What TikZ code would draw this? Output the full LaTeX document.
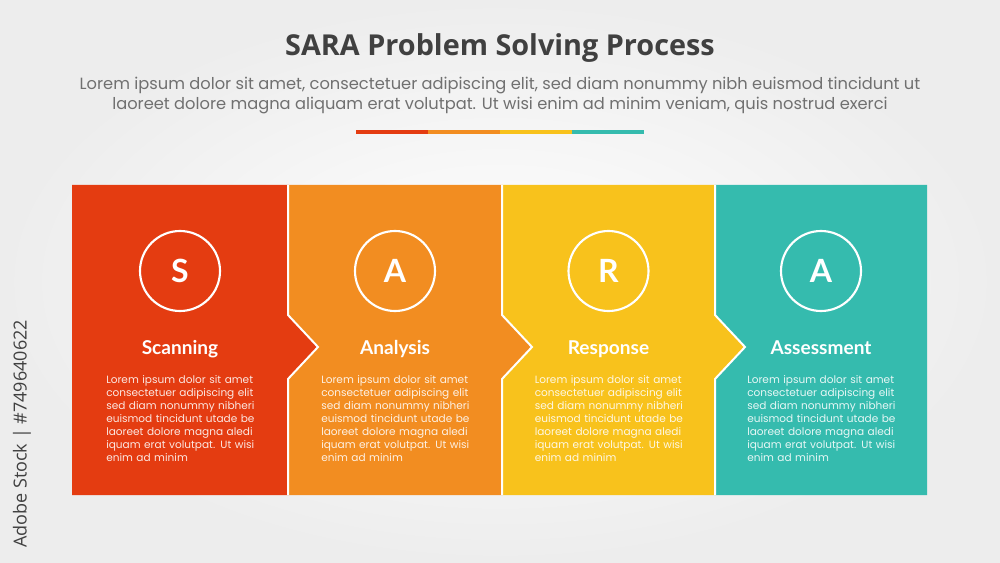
\documentclass[tikz,border=0pt]{standalone}
\usepackage{fontspec}
\setmainfont{Poppins}
\newfontfamily\titlefont{Open Sans}
\newfontfamily\labelfont{Lato}
\definecolor{cS}{HTML}{E43C11}
\definecolor{cA}{HTML}{F28D21}
\definecolor{cR}{HTML}{F8C21C}
\definecolor{cT}{HTML}{35BBAE}
\definecolor{bgc}{HTML}{EDEDED}
\definecolor{ttl}{HTML}{404040}
\definecolor{subc}{HTML}{707070}
\tikzset{
  divider/.style={draw=white, line width=1.5pt, line join=miter},
  ring/.style={circle, draw=white, line width=1.6pt, minimum size=60pt, inner sep=0pt, text=white, font=\labelfont\bfseries\fontsize{24}{26}\selectfont},
  steplabel/.style={text=white, anchor=base, inner sep=0pt, font=\labelfont\bfseries\fontsize{14.3}{16}\selectfont},
  bodytext/.style={text=white, text opacity=0.88, align=left, text width=115pt, inner sep=0pt, font=\fontsize{7.9}{9.75}\selectfont},
  barseg/.style={line width=2.6pt}
}
\begin{document}
\begin{tikzpicture}[x=0.75pt,y=-0.75pt]
\useasboundingbox (0,0) rectangle (1000,563);
\shade[inner color=white, outer color=bgc] (0,0) rectangle (1000,563);
% title
\node[font=\titlefont\bfseries\fontsize{21.6}{26}\selectfont, text=ttl] (title) at (500,48) {SARA Problem Solving Process};
\node[font=\fontsize{12.2}{15}\selectfont, text=subc, align=center] (subtitle) at (500,96) {Lorem ipsum dolor sit amet, consectetuer adipiscing elit, sed diam nonummy nibh euismod tincidunt ut\\laoreet dolore magna aliquam erat volutpat. Ut wisi enim ad minim veniam, quis nostrud exerci};
% colour bar
\draw[barseg, cS] (356,132) -- (428,132);
\draw[barseg, cA] (428,132) -- (500,132);
\draw[barseg, cR] (500,132) -- (572,132);
\draw[barseg, cT] (572,132) -- (644,132);
% panels
\fill[cS] (72,185) -- (288,185) -- (288,315) -- (318,347) -- (288,379) -- (288,495) -- (72,495) -- cycle;
\fill[cA] (288,185) -- (502,185) -- (502,315) -- (532,347) -- (502,379) -- (502,495) -- (288,495) -- (288,379) -- (318,347) -- (288,315) -- cycle;
\fill[cR] (502,185) -- (715,185) -- (715,315) -- (745,347) -- (715,379) -- (715,495) -- (502,495) -- (502,379) -- (532,347) -- (502,315) -- cycle;
\fill[cT] (715,185) -- (927,185) -- (927,495) -- (715,495) -- (715,379) -- (745,347) -- (715,315) -- cycle;
\foreach \x in {288,502,715}{
  \draw[divider] (\x,185) -- (\x,315) -- (\x+30,347) -- (\x,379) -- (\x,495);
}
% contents
\foreach \i/\xl/\xr/\ltr/\lab in {1/72/288/S/Scanning, 2/288/502/A/Analysis, 3/502/715/R/Response, 4/715/927/A/Assessment}{
  \pgfmathsetmacro\xc{(\xl+\xr)/2}
  \node[ring] (circ\i) at (\xc,271) {\ltr};
  \node[steplabel] (lab\i) at (\xc,354) {\lab};
  \node[bodytext, anchor=north west] (body\i) at (\xc-74,375) {Lorem ipsum dolor sit amet\\consectetuer adipiscing elit\\sed diam nonummy nibheri\\euismod tincidunt utade be\\laoreet dolore magna aledi\\iquam erat volutpat. Ut wisi\\enim ad minim};
}
% side mark
\node[rotate=90, font=\titlefont\fontsize{13.5}{16}\selectfont, text=ttl] (mark) at (22,434) {Adobe Stock | \#749640622};
\end{tikzpicture}
\end{document}
